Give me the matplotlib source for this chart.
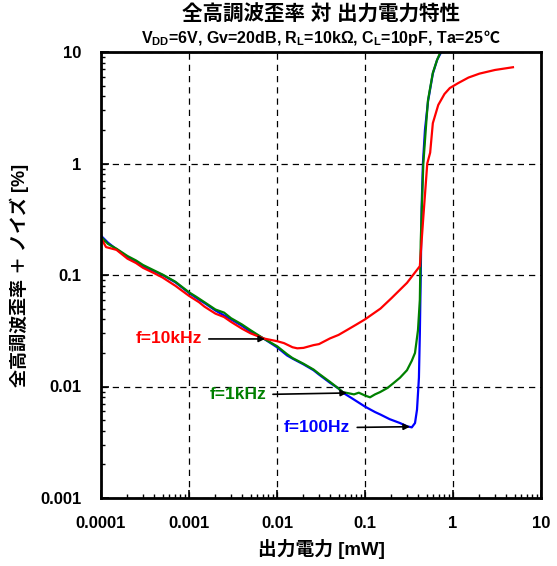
import matplotlib
matplotlib.use("Agg")
import matplotlib.pyplot as plt
from matplotlib.ticker import LogLocator, NullFormatter

plt.rcParams['font.family'] = ['Liberation Sans', 'Noto Sans CJK JP', 'DejaVu Sans']
plt.rcParams['font.weight'] = 'bold'
plt.rcParams['mathtext.fontset'] = 'custom'
plt.rcParams['mathtext.bf'] = 'Liberation Sans:bold'
plt.rcParams['mathtext.rm'] = 'Liberation Sans:bold'
plt.rcParams['mathtext.default'] = 'bf'

# f=100Hz
x_100 = [0.0001, 0.00012, 0.00015, 0.0002, 0.00025, 0.0003, 0.0004, 0.0005, 0.0007,
         0.001, 0.0013, 0.0015, 0.002, 0.003, 0.004, 0.005, 0.007, 0.01, 0.013,
         0.015, 0.02, 0.026, 0.03, 0.04, 0.05, 0.056, 0.07, 0.1, 0.13, 0.15, 0.19,
         0.25, 0.3, 0.34, 0.37, 0.39, 0.41, 0.42, 0.43, 0.44, 0.455, 0.48, 0.52,
         0.59, 0.66, 0.76]
y_100 = [0.225, 0.195, 0.17, 0.145, 0.132, 0.12, 0.108, 0.1, 0.086,
         0.069, 0.06, 0.056, 0.048, 0.04, 0.035, 0.031, 0.027, 0.0225, 0.019,
         0.0178, 0.0158, 0.014, 0.0128, 0.0108, 0.0096, 0.0088, 0.0079, 0.0066, 0.0059, 0.0056, 0.0051,
         0.0047, 0.0044, 0.0043, 0.0047, 0.0062, 0.012, 0.03, 0.1, 0.4, 1.0, 2.0, 3.6,
         6.4, 8.5, 10.5]

# f=1kHz
x_1k = [0.0001, 0.00012, 0.00015, 0.0002, 0.00025, 0.0003, 0.0004, 0.0005, 0.0007,
        0.001, 0.0012, 0.0015, 0.002, 0.0025, 0.003, 0.004, 0.005, 0.007, 0.01,
        0.013, 0.015, 0.02, 0.026, 0.03, 0.04, 0.05, 0.056, 0.065, 0.075, 0.085,
        0.1, 0.114, 0.13, 0.148, 0.18, 0.21, 0.25, 0.3, 0.34, 0.37, 0.4, 0.42,
        0.43, 0.45, 0.46, 0.5, 0.52, 0.59, 0.66, 0.74]
y_1k = [0.22, 0.19, 0.172, 0.148, 0.135, 0.123, 0.11, 0.101, 0.087,
        0.07, 0.064, 0.057, 0.049, 0.046, 0.041, 0.036, 0.032, 0.027, 0.023,
        0.0195, 0.018, 0.016, 0.0142, 0.013, 0.011, 0.0096, 0.0089, 0.0087, 0.0085, 0.0088,
        0.0083, 0.0080, 0.0085, 0.0089, 0.0097, 0.0107, 0.012, 0.014, 0.017, 0.02, 0.032, 0.06,
        0.2, 0.6, 1.0, 2.5, 3.7, 6.5, 8.5, 10.5]

# f=10kHz
x_10k = [0.0001, 0.000114, 0.00015, 0.0002, 0.00025, 0.0003, 0.0004, 0.0005, 0.0007,
         0.001, 0.0013, 0.0015, 0.002, 0.0025, 0.003, 0.004, 0.005, 0.007, 0.01,
         0.012, 0.015, 0.017, 0.02, 0.026, 0.03, 0.04, 0.05, 0.062, 0.08, 0.1,
         0.15, 0.2, 0.3, 0.42, 0.46, 0.51, 0.55, 0.59, 0.68, 0.8, 0.92, 1.14,
         1.5, 2.0, 3.0, 4.8]
y_10k = [0.215, 0.178, 0.168, 0.14, 0.128, 0.116, 0.104, 0.095, 0.08,
         0.065, 0.057, 0.052, 0.045, 0.042, 0.038, 0.033, 0.03, 0.027, 0.0255,
         0.0245, 0.0225, 0.022, 0.0222, 0.0235, 0.024, 0.027, 0.029, 0.032, 0.036, 0.040,
         0.05, 0.062, 0.085, 0.12, 0.33, 1.0, 1.25, 2.3, 3.35, 4.2, 4.75, 5.25,
         5.9, 6.4, 6.9, 7.3]

x_ticks = [0.0001, 0.001, 0.01, 0.1, 1, 10]
x_tick_labels = ['0.0001', '0.001', '0.01', '0.1', '1', '10']
y_ticks = [0.001, 0.01, 0.1, 1, 10]
y_tick_labels = ['0.001', '0.01', '0.1', '1', '10']

fig = plt.figure(figsize=(5.57, 5.66), dpi=100)
ax = fig.add_axes([101/557, 1 - 498/566, 440/557, 446/566])

ax.plot(x_100, y_100, color='#0000ff', lw=1.6)
ax.plot(x_1k, y_1k, color='#008000', lw=1.6)
ax.plot(x_10k, y_10k, color='#ff0000', lw=1.6)

ax.set_xscale('log')
ax.set_yscale('log')
ax.set_xlim(0.0001, 10)
ax.set_ylim(0.001, 10)
ax.set_xticks(x_ticks, x_tick_labels)
ax.set_yticks(y_ticks, y_tick_labels)
ax.xaxis.set_minor_locator(LogLocator(base=10, subs=range(2, 10), numticks=20))
ax.yaxis.set_minor_locator(LogLocator(base=10, subs=range(2, 10), numticks=20))
ax.xaxis.set_minor_formatter(NullFormatter())
ax.yaxis.set_minor_formatter(NullFormatter())
ax.tick_params(which='major', direction='in', length=6, width=1.2, labelsize=12)
ax.tick_params(axis='x', which='major', pad=13)
ax.tick_params(axis='y', which='major', pad=14)
ax.tick_params(which='minor', direction='in', length=3, width=1)
ax.grid(True, which='major', color='black', linestyle=(0, (5, 4)), lw=0.9)
for s in ax.spines.values():
    s.set_linewidth(2)

ax.set_xlabel('出力電力 [mW]', fontsize=13.5, fontweight='bold', labelpad=6)
ax.set_ylabel('全高調波歪率 ＋ ノイズ [%]', fontsize=13, fontweight='bold', labelpad=8)

fig.text(321/557, 1 - 15/566, '全高調波歪率 対 出力電力特性', ha='center', va='center',
         fontsize=14.8, fontweight='bold')
fig.text(484/557, 1 - 38/566,
         'V$_{DD}$=6V, Gv=20dB, R$_L$=10kΩ, C$_L$=10pF, Ta=25',
         ha='right', va='center', fontsize=11.5, fontweight='bold')
fig.text(484/557, 1 - 38/566, '℃', ha='left', va='center', fontsize=11.5,
         fontweight='bold', family=['Noto Sans CJK JP', 'DejaVu Sans'])

# annotations
arrow = dict(arrowstyle='-|>', color='black', lw=1.2, mutation_scale=9, shrinkA=3, shrinkB=0)
ax.annotate('f=10kHz', xy=(0.0073, 0.0267), xytext=(0.0014, 0.0267),
            color='#ff0000', fontsize=12.5, fontweight='bold', ha='right', va='center',
            arrowprops=arrow)
ax.annotate('f=1kHz', xy=(0.0624, 0.00875), xytext=(0.0075, 0.0084),
            color='#008000', fontsize=12.5, fontweight='bold', ha='right', va='center',
            arrowprops=arrow)
ax.annotate('f=100Hz', xy=(0.324, 0.00436), xytext=(0.068, 0.00425),
            color='#0000ff', fontsize=12.5, fontweight='bold', ha='right', va='center',
            arrowprops=arrow)

fig.savefig('out.png', dpi=100)
